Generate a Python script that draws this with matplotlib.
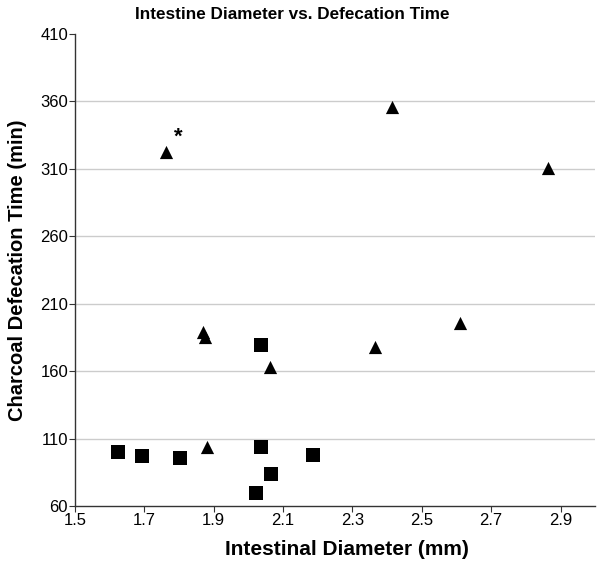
import matplotlib.pyplot as plt

plt.rcParams['font.family'] = ['Liberation Sans', 'DejaVu Sans']

# squares
sq_diam = [1.625, 1.693, 1.804, 2.035, 2.065, 2.022, 2.185, 2.035]
sq_time = [100, 97.3, 95.8, 103.5, 83.7, 69.4, 98, 179.2]

# triangles
tri_diam = [1.763, 1.87, 1.875, 1.881, 2.063, 2.364, 2.414, 2.611, 2.863]
tri_time = [322.7, 189, 185, 104, 163.3, 177.7, 356, 195.9, 310.6]

# starred point
star_diam = 1.797
star_time = 333.4

x_ticks = [1.5, 1.7, 1.9, 2.1, 2.3, 2.5, 2.7, 2.9]
y_ticks = [60, 110, 160, 210, 260, 310, 360, 410]

fig = plt.figure(figsize=(6, 5.66), dpi=100)
ax = fig.add_axes([0.125, 0.106, 0.867, 0.834])

# grid lines (no line at the top)
for y in y_ticks[1:-1]:
    ax.axhline(y, color='#cccccc', linewidth=1, zorder=0)

ax.scatter(sq_diam, sq_time, marker='s', s=9.5 ** 2, color='black', linewidths=0, zorder=3)
ax.scatter(tri_diam, tri_time, marker='^', s=9.5 ** 2, color='black', linewidths=0, zorder=3)
ax.text(star_diam, star_time, '*', fontsize=16, fontweight='bold', ha='center', va='center')

ax.set_xlim(1.5, 3.0)
ax.set_ylim(60, 410)
ax.set_xticks(x_ticks)
ax.set_xticklabels([f'{t:.1f}' for t in x_ticks])
ax.set_yticks(y_ticks)

for side in ['top', 'right']:
    ax.spines[side].set_visible(False)
for side in ['left', 'bottom']:
    ax.spines[side].set_color('#333333')
    ax.spines[side].set_linewidth(1)

ax.tick_params(axis='both', labelsize=12, length=4, width=0.8, color='#333333', pad=1)

fig.text(0.487, 0.975, 'Intestine Diameter vs. Defecation Time', ha='center', va='center',
         fontsize=12.3, fontweight='bold')
fig.text(0.578, 0.03, 'Intestinal Diameter (mm)', ha='center', va='center',
         fontsize=15, fontweight='bold')
fig.text(0.03, 0.523, 'Charcoal Defecation Time (min)', ha='center', va='center',
         rotation=90, fontsize=14.5, fontweight='bold')

fig.savefig('out.png', dpi=100)
